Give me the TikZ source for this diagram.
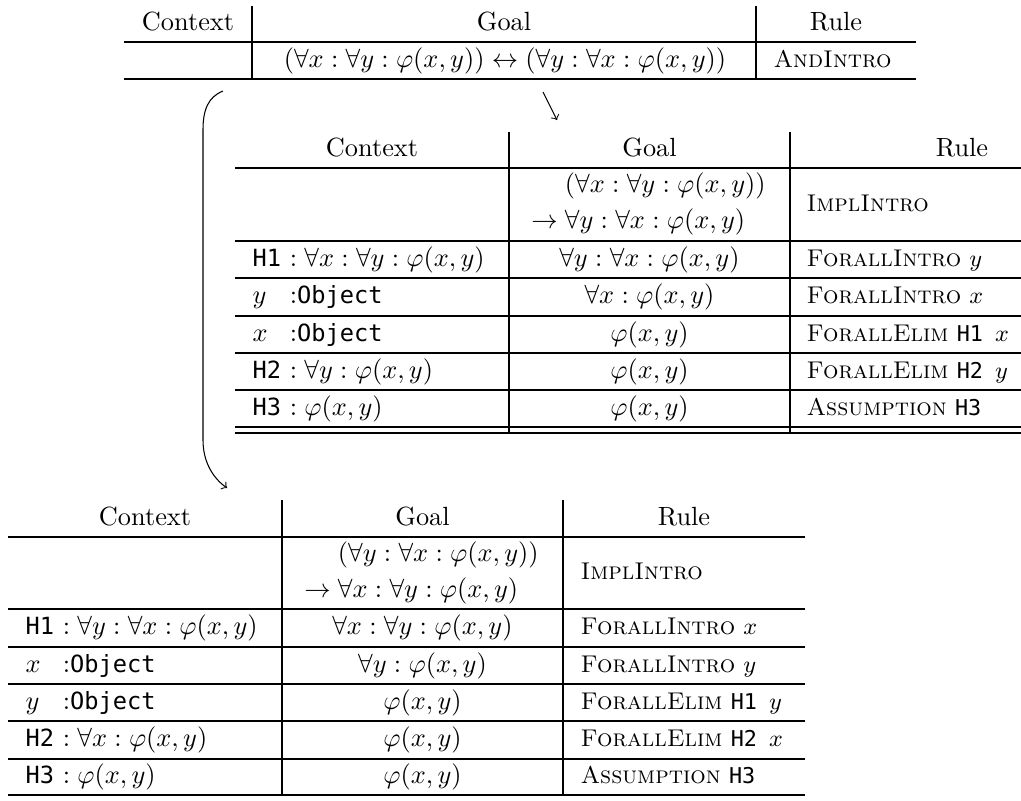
\documentclass[tikz,border=0pt]{standalone}
\usepackage{fontspec}
\setmonofont{DejaVu Sans Mono}[Scale=0.9]
\usepackage{amssymb}
\usepackage{calc}
\usepackage{tikz}

\newcommand{\hyp}[1]{\texttt{#1}}
\newcommand{\rname}[1]{\textsc{#1}}
\newcommand{\objvar}[1]{\makebox[\widthof{\texttt{H1}}][l]{$#1$}}
\newcommand{\twogoal}[2]{\begin{tabular}{@{}l@{}}$\hphantom{\to{}}#1$\\[1.6pt] $\to #2$\end{tabular}}

\begin{document}
\begin{tikzpicture}[x=0.38pt, y=-0.38pt,
    cell/.style={inner sep=0pt, text height=7.5pt, text depth=2.5pt},
    ctx/.style={cell, anchor=west},
    goal/.style={cell},
    rulecol/.style={cell, anchor=west, font=\fontsize{9.2pt}{11pt}\selectfont},
    tabline/.style={line width=0.5pt}]
    \useasboundingbox (0,0) rectangle (1021,801);

    % first table
    \draw[tabline] (124,42) -- (916,42);
    \draw[tabline] (124,79) -- (916,79);
    \draw[tabline] (252,6) -- (252,79);
    \draw[tabline] (756,6) -- (756,79);
    \node[cell] (t-ctx-h) at (188,24) {Context};
    \node[cell] (t-goal-h) at (504,24) {Goal};
    \node[cell] (t-rule-h) at (836,24) {Rule};
    \node[goal] (t-goal-1) at (505,60.5) {$(\forall x : \forall y : \varphi(x,y)) \leftrightarrow (\forall y : \forall x : \varphi(x,y))$};
    \node[rulecol] (t-rule-1) at (773,60.5) {\rname{AndIntro}};

    % second table
    \draw[tabline] (235,168) -- (1021,168);
    \draw[tabline] (235,241) -- (1021,241);
    \draw[tabline] (235,278) -- (1021,278);
    \draw[tabline] (235,316) -- (1021,316);
    \draw[tabline] (235,353) -- (1021,353);
    \draw[tabline] (235,390) -- (1021,390);
    \draw[tabline] (235,427) -- (1021,427);
    \draw[tabline] (235,433) -- (1021,433);
    \draw[tabline] (509,132) -- (509,433);
    \draw[tabline] (790,132) -- (790,433);
    \node[cell] (m-ctx-h) at (372,150) {Context};
    \node[cell] (m-goal-h) at (649.5,150) {Goal};
    \node[cell] (m-rule-h) at (962,150) {Rule};
    \node[goal] (m-goal-1) at (648.5,204.5) {\twogoal{(\forall x : \forall y : \varphi(x,y))}{\forall y : \forall x : \varphi(x,y)}};
    \node[rulecol] (m-rule-1) at (806,204.5) {\rname{ImplIntro}};
    \node[ctx] (m-ctx-2) at (252,259.5) {\hyp{H1} $: \forall x : \forall y : \varphi(x,y)$};
    \node[goal] (m-goal-2) at (649.5,259.5) {$\forall y : \forall x : \varphi(x,y)$};
    \node[rulecol] (m-rule-2) at (806,259.5) {\rname{ForallIntro} $y$};
    \node[ctx] (m-ctx-3) at (252,297) {\objvar{y} $:$\texttt{Object}};
    \node[goal] (m-goal-3) at (649.5,297) {$\forall x : \varphi(x,y)$};
    \node[rulecol] (m-rule-3) at (806,297) {\rname{ForallIntro} $x$};
    \node[ctx] (m-ctx-4) at (252,334.5) {\objvar{x} $:$\texttt{Object}};
    \node[goal] (m-goal-4) at (649.5,334.5) {$\varphi(x,y)$};
    \node[rulecol] (m-rule-4) at (806,334.5) {\rname{ForallElim} \hyp{H1}\enspace$x$};
    \node[ctx] (m-ctx-5) at (252,371.5) {\hyp{H2} $: \forall y : \varphi(x,y)$};
    \node[goal] (m-goal-5) at (649.5,371.5) {$\varphi(x,y)$};
    \node[rulecol] (m-rule-5) at (806,371.5) {\rname{ForallElim} \hyp{H2}\enspace$y$};
    \node[ctx] (m-ctx-6) at (252,408.5) {\hyp{H3} $: \varphi(x,y)$};
    \node[goal] (m-goal-6) at (649.5,408.5) {$\varphi(x,y)$};
    \node[rulecol] (m-rule-6) at (806,408.5) {\rname{Assumption} \hyp{H3}};

    % third table
    \draw[tabline] (8,537) -- (805,537);
    \draw[tabline] (8,609) -- (805,609);
    \draw[tabline] (8,647) -- (805,647);
    \draw[tabline] (8,684) -- (805,684);
    \draw[tabline] (8,721) -- (805,721);
    \draw[tabline] (8,759) -- (805,759);
    \draw[tabline] (8,795) -- (805,795);
    \draw[tabline] (282,500) -- (282,795);
    \draw[tabline] (563,500) -- (563,795);
    \node[cell] (b-ctx-h) at (145,518.5) {Context};
    \node[cell] (b-goal-h) at (422.5,518.5) {Goal};
    \node[cell] (b-rule-h) at (684,518.5) {Rule};
    \node[goal] (b-goal-1) at (421.5,573) {\twogoal{(\forall y : \forall x : \varphi(x,y))}{\forall x : \forall y : \varphi(x,y)}};
    \node[rulecol] (b-rule-1) at (580,573) {\rname{ImplIntro}};
    \node[ctx] (b-ctx-2) at (25,628) {\hyp{H1} $: \forall y : \forall x : \varphi(x,y)$};
    \node[goal] (b-goal-2) at (422.5,628) {$\forall x : \forall y : \varphi(x,y)$};
    \node[rulecol] (b-rule-2) at (580,628) {\rname{ForallIntro} $x$};
    \node[ctx] (b-ctx-3) at (25,665.5) {\objvar{x} $:$\texttt{Object}};
    \node[goal] (b-goal-3) at (422.5,665.5) {$\forall y : \varphi(x,y)$};
    \node[rulecol] (b-rule-3) at (580,665.5) {\rname{ForallIntro} $y$};
    \node[ctx] (b-ctx-4) at (25,702.5) {\objvar{y} $:$\texttt{Object}};
    \node[goal] (b-goal-4) at (422.5,702.5) {$\varphi(x,y)$};
    \node[rulecol] (b-rule-4) at (580,702.5) {\rname{ForallElim} \hyp{H1}\enspace$y$};
    \node[ctx] (b-ctx-5) at (25,740) {\hyp{H2} $: \forall x : \varphi(x,y)$};
    \node[goal] (b-goal-5) at (422.5,740) {$\varphi(x,y)$};
    \node[rulecol] (b-rule-5) at (580,740) {\rname{ForallElim} \hyp{H2}\enspace$x$};
    \node[ctx] (b-ctx-6) at (25,777) {\hyp{H3} $: \varphi(x,y)$};
    \node[goal] (b-goal-6) at (422.5,777) {$\varphi(x,y)$};
    \node[rulecol] (b-rule-6) at (580,777) {\rname{Assumption} \hyp{H3}};

    % arrows between the tables
    \coordinate (split-from) at (543,92);
    \coordinate (split-to) at (557,120);
    \draw[->] (split-from) -- (split-to);
    \coordinate (back-from) at (223,91);
    \coordinate (back-to) at (227,488);
    \draw[->] (back-from) .. controls (208,97) and (203,110) .. (203,130)
        -- (203,440) .. controls (203,462) and (213,478) .. (back-to);
\end{tikzpicture}
\end{document}
